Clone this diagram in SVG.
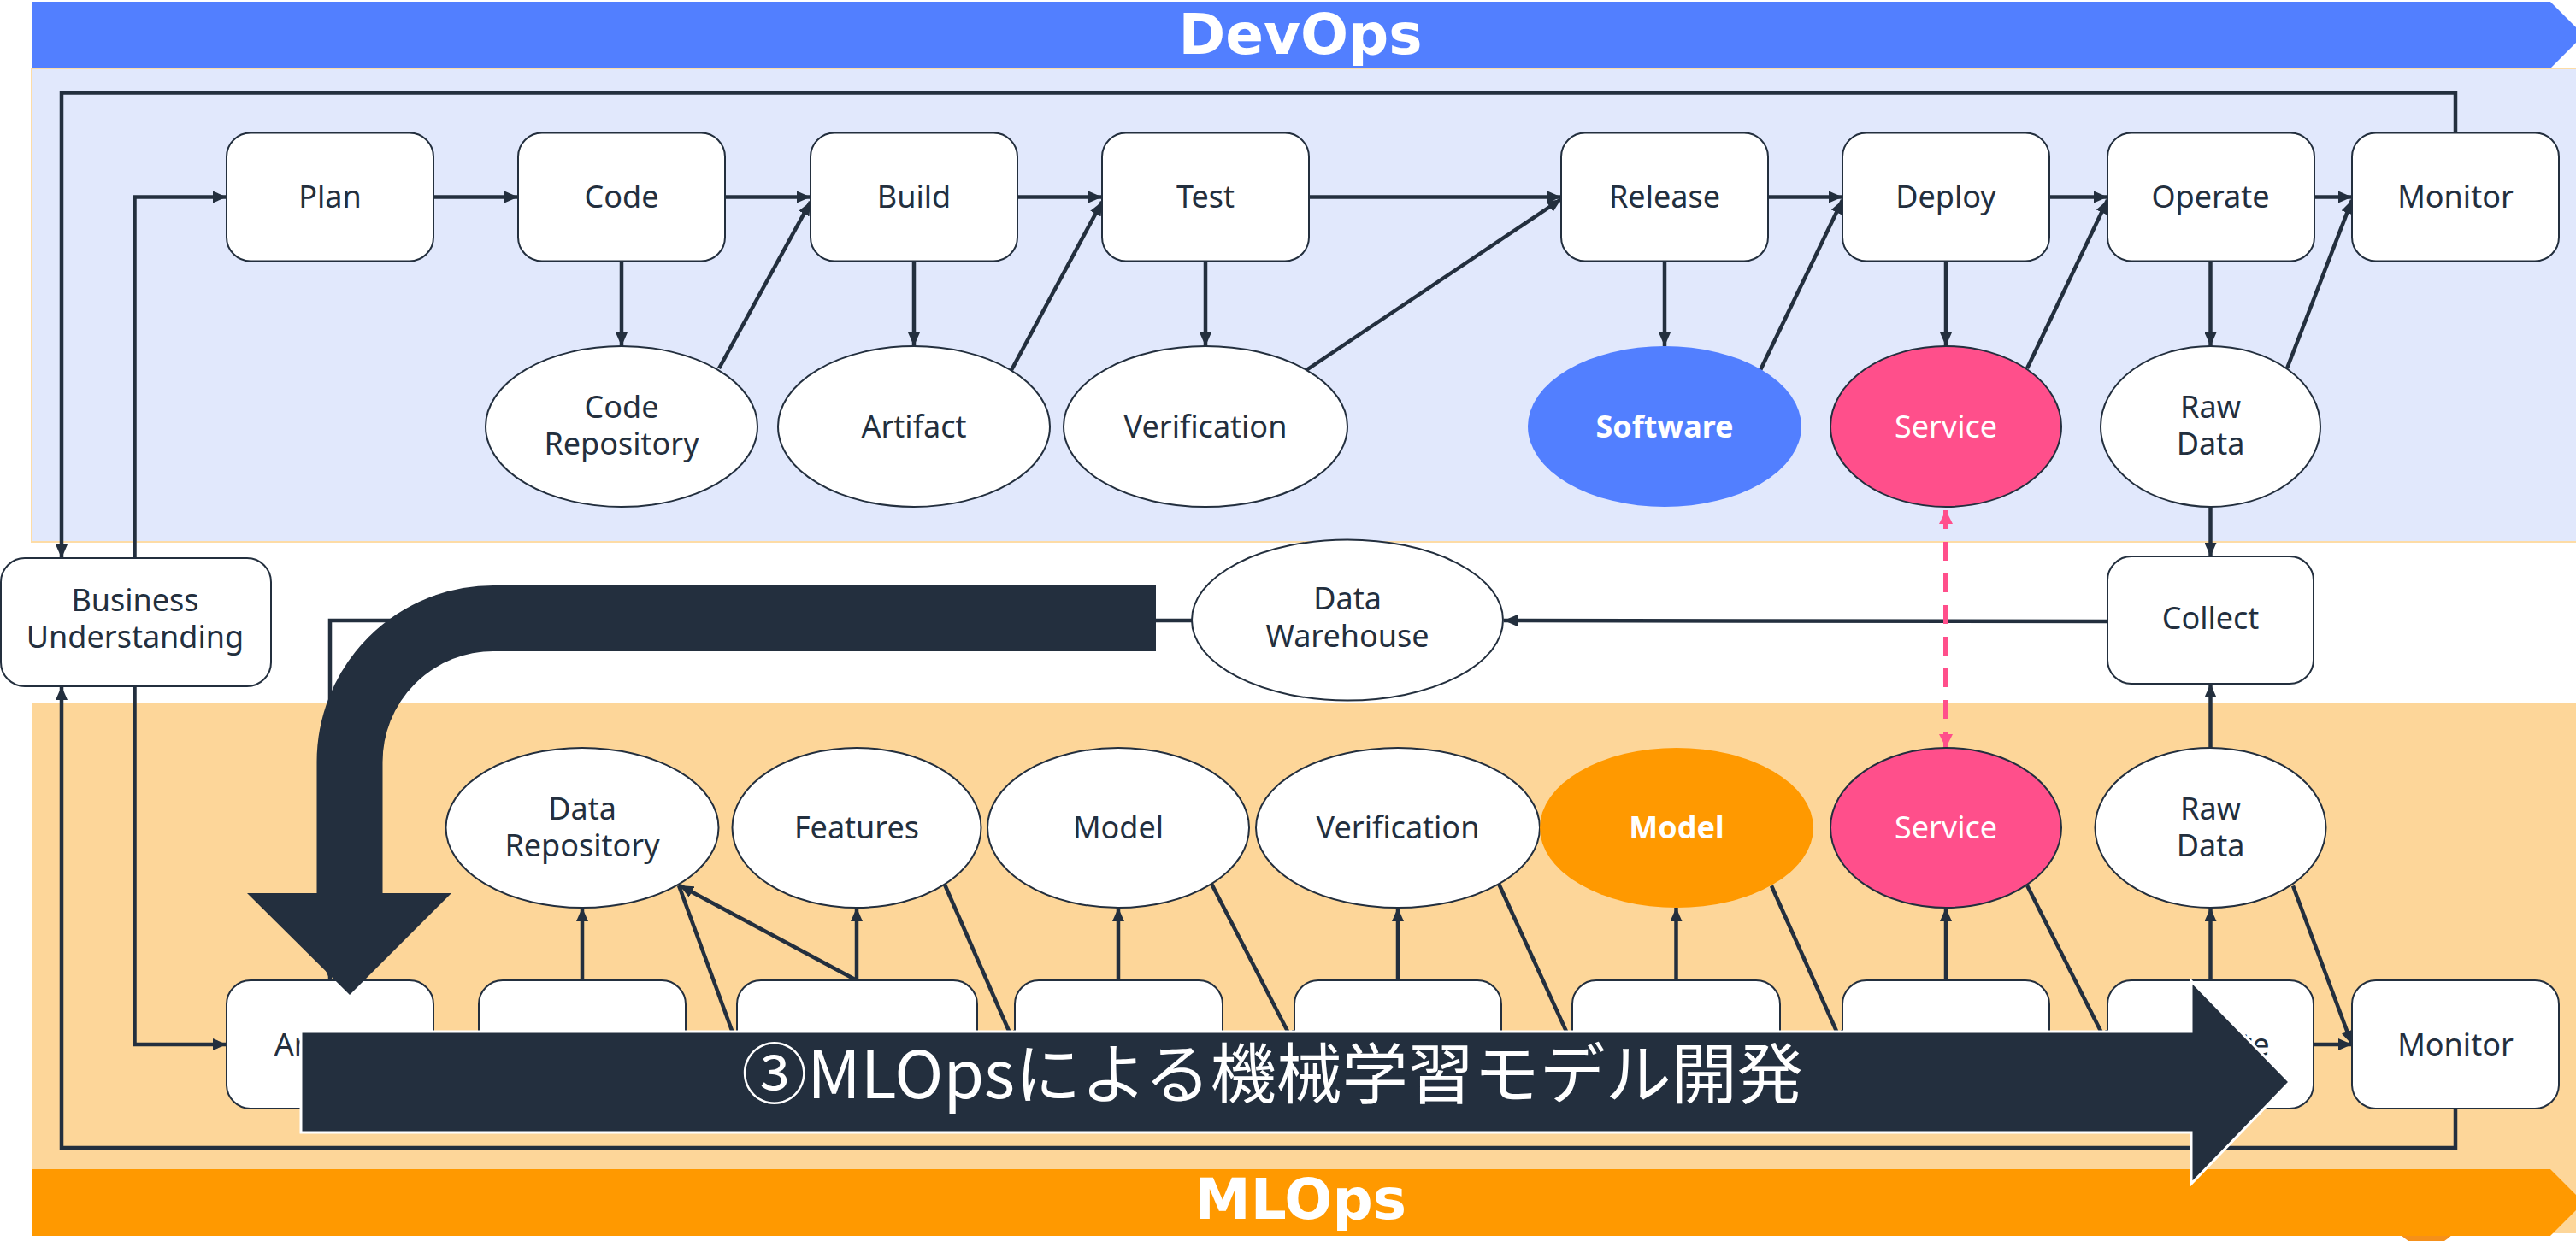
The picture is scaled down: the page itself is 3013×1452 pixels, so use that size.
<svg xmlns="http://www.w3.org/2000/svg" width="3013" height="1452" viewBox="0 0 3013 1452">
<style>
.box{fill:#fff;stroke:#232F3E;stroke-width:2}
.ell{fill:#fff;stroke:#232F3E;stroke-width:2}
.lbl{font-family:"Noto Sans","Liberation Sans",sans-serif;font-size:36px;fill:#232F3E;text-anchor:middle}
.wlbl{fill:#fff}
.bold{font-weight:bold}
.conn{fill:none;stroke:#232F3E;stroke-width:4.5;marker-end:url(#ah)}
.title{font-family:"DejaVu Sans","Liberation Sans",sans-serif;font-size:66px;font-weight:bold;fill:#fff;text-anchor:middle}
</style>
<defs>
<marker id="ah" viewBox="0 0 16 14" refX="16" refY="7" markerWidth="16" markerHeight="14" markerUnits="userSpaceOnUse" orient="auto"><path d="M0,0 L16,7 L0,14 z" fill="#232F3E"/></marker>
<marker id="ph" viewBox="0 0 16 16" refX="16" refY="8" markerWidth="16" markerHeight="16" markerUnits="userSpaceOnUse" orient="auto-start-reverse"><path d="M0,0 L16,8 L0,16 z" fill="#FF4F8B"/></marker>
</defs>
<rect width="3013" height="1452" fill="#fff"/>
<!-- panels -->
<rect x="37" y="80" width="2990" height="554" fill="#E1E8FC" stroke="#FDDCA6" stroke-width="2"/>
<rect x="37" y="823" width="2990" height="620" fill="#FDD699"/>
<circle cx="2838" cy="1418" r="40" fill="#F5901A"/>
<polygon points="37,2 2983,2 3022,41 2983,80 37,80" fill="#527FFF"/>
<text class="title" x="1521" y="63">DevOps</text>
<polygon points="37,1368 2983,1368 3022,1407 2983,1446 37,1446" fill="#FF9900"/>
<text class="title" x="1521" y="1426">MLOps</text>

<!-- connectors -->
<g id="connectors">
<path class="conn" d="M2872 155.5 V108.6 H72 V653"/>
<path class="conn" d="M157.5 653 V230.5 H265"/>
<path class="conn" d="M157.5 803 V1222 H265"/>
<path class="conn" d="M2872 1297 V1343 H72 V803"/>
<line class="conn" x1="507" y1="230.5" x2="606" y2="230.5"/>
<line class="conn" x1="848" y1="230.5" x2="948" y2="230.5"/>
<line class="conn" x1="1191" y1="230.5" x2="1289" y2="230.5"/>
<line class="conn" x1="1531" y1="230.5" x2="1826" y2="230.5"/>
<line class="conn" x1="2068" y1="230.5" x2="2155" y2="230.5"/>
<line class="conn" x1="2397" y1="230.5" x2="2465" y2="230.5"/>
<line class="conn" x1="2706" y1="230.5" x2="2751" y2="230.5"/>
<line class="conn" x1="727" y1="305.5" x2="727" y2="405"/>
<line class="conn" x1="1069" y1="305.5" x2="1069" y2="405"/>
<line class="conn" x1="1410" y1="305.5" x2="1410" y2="405"/>
<line class="conn" x1="1947" y1="305.5" x2="1947" y2="405"/>
<line class="conn" x1="2276" y1="305.5" x2="2276" y2="405"/>
<line class="conn" x1="2585.5" y1="305.5" x2="2585.5" y2="405"/>
<line class="conn" x1="841" y1="431" x2="948" y2="236"/>
<line class="conn" x1="1183" y1="433" x2="1289" y2="236"/>
<line class="conn" x1="1528" y1="433" x2="1826" y2="233"/>
<line class="conn" x1="2059" y1="433" x2="2155" y2="234"/>
<line class="conn" x1="2371" y1="431" x2="2465" y2="234"/>
<line class="conn" x1="2675" y1="431" x2="2751" y2="234"/>
<line class="conn" x1="2585.5" y1="593" x2="2585.5" y2="651"/>
<line class="conn" x1="2465" y1="727" x2="1759" y2="726"/>
<path class="conn" d="M1394 726 H386 V1147"/>
<line x1="2276" y1="597" x2="2276" y2="875" stroke="#FF4F8B" stroke-width="6" stroke-dasharray="22 15" marker-start="url(#ph)" marker-end="url(#ph)"/>
<line class="conn" x1="681" y1="1147" x2="681" y2="1062"/>
<line class="conn" x1="1002" y1="1147" x2="1002" y2="1062"/>
<line class="conn" x1="1308" y1="1147" x2="1308" y2="1062"/>
<line class="conn" x1="1635" y1="1147" x2="1635" y2="1062"/>
<line class="conn" x1="1960.5" y1="1147" x2="1960.5" y2="1062"/>
<line class="conn" x1="2276" y1="1147" x2="2276" y2="1062"/>
<line class="conn" x1="2585.5" y1="1147" x2="2585.5" y2="1062"/>
<line class="conn" x1="2585.5" y1="875" x2="2585.5" y2="800"/>
<line class="conn" x1="1002" y1="1147" x2="795" y2="1036"/>
<line class="conn" x1="794" y1="1036" x2="862" y2="1222"/>
<line class="conn" x1="1105" y1="1035" x2="1187" y2="1222"/>
<line class="conn" x1="1417" y1="1034" x2="1514" y2="1222"/>
<line class="conn" x1="1753" y1="1034" x2="1839" y2="1222"/>
<line class="conn" x1="2072" y1="1036.5" x2="2155" y2="1222"/>
<line class="conn" x1="2371" y1="1036" x2="2465" y2="1222"/>
<line class="conn" x1="2682" y1="1036.5" x2="2751" y2="1222"/>
<line class="conn" x1="2706" y1="1222" x2="2751" y2="1222"/>
</g>

<!-- DevOps nodes -->
<g id="plan"><rect class="box" x="265" y="155.5" width="242" height="150" rx="28"/><text class="lbl" x="386" y="243">Plan</text></g>
<g id="code"><rect class="box" x="606" y="155.5" width="242" height="150" rx="28"/><text class="lbl" x="727" y="243">Code</text></g>
<g id="build"><rect class="box" x="948" y="155.5" width="242" height="150" rx="28"/><text class="lbl" x="1069" y="243">Build</text></g>
<g id="test"><rect class="box" x="1289" y="155.5" width="242" height="150" rx="28"/><text class="lbl" x="1410" y="243">Test</text></g>
<g id="release"><rect class="box" x="1826" y="155.5" width="242" height="150" rx="28"/><text class="lbl" x="1947" y="243">Release</text></g>
<g id="deploy"><rect class="box" x="2155" y="155.5" width="242" height="150" rx="28"/><text class="lbl" x="2276" y="243">Deploy</text></g>
<g id="operate"><rect class="box" x="2465" y="155.5" width="242" height="150" rx="28"/><text class="lbl" x="2585.5" y="243">Operate</text></g>
<g id="monitor"><rect class="box" x="2751" y="155.5" width="242" height="150" rx="28"/><text class="lbl" x="2872" y="243">Monitor</text></g>

<g id="code-repository"><ellipse class="ell" cx="727" cy="499" rx="159" ry="94"/><text class="lbl" x="727" y="489">Code</text><text class="lbl" x="727" y="532">Repository</text></g>
<g id="artifact"><ellipse class="ell" cx="1069" cy="499" rx="159" ry="94"/><text class="lbl" x="1069" y="512">Artifact</text></g>
<g id="verification"><ellipse class="ell" cx="1410" cy="499" rx="166" ry="94"/><text class="lbl" x="1410" y="512">Verification</text></g>
<g id="software"><ellipse cx="1947" cy="499" rx="160" ry="94" fill="#527FFF"/><text class="lbl wlbl bold" x="1947" y="512">Software</text></g>
<g id="service"><ellipse class="ell" cx="2276" cy="499" rx="135" ry="94" style="fill:#FF4F8B"/><text class="lbl wlbl" x="2276" y="512">Service</text></g>
<g id="raw-data"><ellipse class="ell" cx="2585.5" cy="499" rx="128.5" ry="94"/><text class="lbl" x="2585.5" y="489">Raw</text><text class="lbl" x="2585.5" y="532">Data</text></g>

<!-- middle -->
<g id="business-understanding"><rect class="box" x="1" y="653" width="316" height="150" rx="28"/><text class="lbl" x="158" y="715">Business</text><text class="lbl" x="158" y="758">Understanding</text></g>
<g id="data-warehouse"><ellipse class="ell" cx="1576" cy="725.5" rx="182" ry="94"/><text class="lbl" x="1576" y="713">Data</text><text class="lbl" x="1576" y="757">Warehouse</text></g>
<g id="collect"><rect class="box" x="2465" y="651" width="241" height="149" rx="28"/><text class="lbl" x="2585.5" y="736">Collect</text></g>

<!-- MLOps nodes -->
<g id="ml-analyze"><rect class="box" x="265" y="1147" width="242" height="150" rx="28"/><text class="lbl" x="386" y="1235">Analyze</text></g>
<g id="ml-prepare"><rect class="box" x="560" y="1147" width="242" height="150" rx="28"/></g>
<g id="ml-engineer"><rect class="box" x="862" y="1147" width="281" height="150" rx="28"/></g>
<g id="ml-train"><rect class="box" x="1187" y="1147" width="243" height="150" rx="28"/></g>
<g id="ml-evaluate"><rect class="box" x="1514" y="1147" width="242" height="150" rx="28"/></g>
<g id="ml-release"><rect class="box" x="1839" y="1147" width="243" height="150" rx="28"/></g>
<g id="ml-deploy"><rect class="box" x="2155" y="1147" width="242" height="150" rx="28"/></g>
<g id="ml-operate"><rect class="box" x="2465" y="1147" width="241" height="150" rx="28"/><text class="lbl" x="2585.5" y="1235">Operate</text></g>
<g id="ml-monitor"><rect class="box" x="2751" y="1147" width="242" height="150" rx="28"/><text class="lbl" x="2872" y="1235">Monitor</text></g>

<g id="ml-data-repository"><ellipse class="ell" cx="681" cy="968.5" rx="159.5" ry="93.5"/><text class="lbl" x="681" y="959">Data</text><text class="lbl" x="681" y="1002">Repository</text></g>
<g id="ml-features"><ellipse class="ell" cx="1002" cy="968.5" rx="145.5" ry="93.5"/><text class="lbl" x="1002" y="981">Features</text></g>
<g id="ml-model"><ellipse class="ell" cx="1308" cy="968.5" rx="153" ry="93.5"/><text class="lbl" x="1308" y="981">Model</text></g>
<g id="ml-verification"><ellipse class="ell" cx="1635" cy="968.5" rx="166" ry="93.5"/><text class="lbl" x="1635" y="981">Verification</text></g>
<g id="ml-model-out"><ellipse cx="1961" cy="968.5" rx="160" ry="93.5" fill="#FF9900"/><text class="lbl wlbl bold" x="1961" y="981">Model</text></g>
<g id="ml-service"><ellipse class="ell" cx="2276" cy="968.5" rx="135" ry="93.5" style="fill:#FF4F8B"/><text class="lbl wlbl" x="2276" y="981">Service</text></g>
<g id="ml-raw-data"><ellipse class="ell" cx="2585.5" cy="968.5" rx="135" ry="93.5"/><text class="lbl" x="2585.5" y="959">Raw</text><text class="lbl" x="2585.5" y="1002">Data</text></g>

<!-- overlay arrows -->
<g id="curved-arrow">
<path d="M1352 723.5 H577 A168 168 0 0 0 409 891.5 V1046" fill="none" stroke="#232F3E" stroke-width="77"/>
<polygon points="289,1045 528,1045 409,1164" fill="#232F3E"/>
</g>
<g id="banner-arrow">
<polygon points="352,1207 2563,1207 2563,1148 2678,1266 2563,1385 2563,1325 352,1325" fill="#232F3E" stroke="#fff" stroke-width="3"/>
<text x="1488" y="1285" font-family="'Noto Sans CJK JP','Noto Sans',sans-serif" font-size="77" fill="#fff" text-anchor="middle">③MLOpsによる機械学習モデル開発</text>
</g>
</svg>
